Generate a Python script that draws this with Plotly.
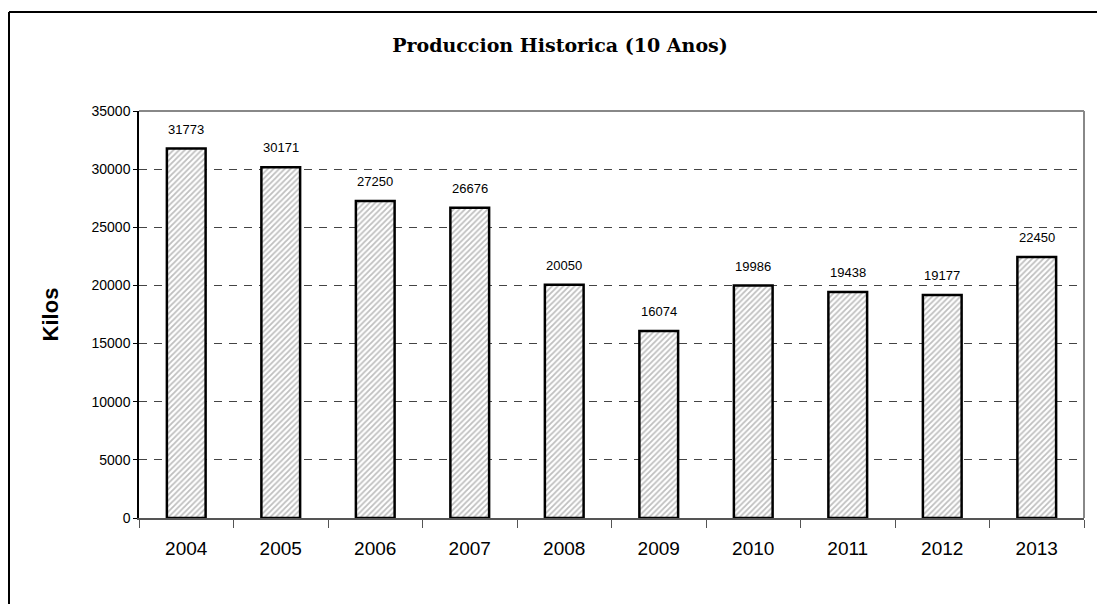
import plotly.graph_objects as go

years = ["2004", "2005", "2006", "2007", "2008", "2009", "2010", "2011", "2012", "2013"]
kilos = [31773, 30171, 27250, 26676, 20050, 16074, 19986, 19438, 19177, 22450]
y_ticks = [0, 5000, 10000, 15000, 20000, 25000, 30000, 35000]

OFF = 8  # page body margin offset

fig = go.Figure()
fig.add_trace(go.Bar(
    x=years, y=kilos,
    width=0.41,
    marker=dict(
        color="white",
        line=dict(color="black", width=2.5),
        pattern=dict(shape="/", fgcolor="#808080", bgcolor="white", size=4, solidity=0.45),
    ),
    hoverinfo="x+y",
))

for i, v in enumerate(kilos):
    fig.add_annotation(x=i, y=v, xref="x", yref="y", text=str(v), showarrow=False,
                       yanchor="bottom", yshift=10,
                       font=dict(family="Liberation Sans, Arial", size=13, color="black"))

fig.update_layout(
    width=1105, height=604,
    margin=dict(l=139 - OFF, r=21 + OFF, t=111 - OFF, b=86 + OFF),
    paper_bgcolor="white", plot_bgcolor="white",
    showlegend=False,
    title=dict(text="<b>Produccion Historica (10 Anos)</b>", x=(560 - OFF) / 1105, xanchor="center",
               y=1 - (45 - OFF) / 604, yanchor="middle",
               font=dict(family="DejaVu Serif", size=19, color="black")),
    xaxis=dict(
        type="category",
        range=[-0.5, 9.5],
        showline=True, linecolor="#555555", linewidth=2,
        ticks="outside", ticklen=8, tickcolor="#555555", tickwidth=1,
        tickson="boundaries",
        ticklabelstandoff=12,
        tickfont=dict(family="Liberation Sans, Arial", size=19, color="black"),
        tickangle=0,
        mirror=False, showgrid=False,
    ),
    yaxis=dict(
        range=[0, 35000],
        tickvals=y_ticks,
        tickformat="d",
        showline=True, linecolor="black", linewidth=1.5,
        ticks="outside", ticklen=4, tickcolor="black",
        tickfont=dict(family="Liberation Sans, Arial", size=14, color="black"),
        showgrid=True, gridcolor="#444444", griddash="8px,7px", gridwidth=1,
        zeroline=False,
        title=dict(text="<b>Kilos</b>", font=dict(family="Liberation Sans, Arial", size=22, color="black"), standoff=27),
    ),
)

W = 1105 - (139 - OFF) - (21 + OFF)
H = 604 - (111 - OFF) - (86 + OFF)
# plot-area top and right border
fig.add_shape(type="line", xref="paper", yref="paper", x0=0, x1=1, y0=1, y1=1,
              line=dict(color="#888888", width=2))
fig.add_shape(type="line", xref="paper", yref="paper", x0=1, x1=1, y0=0, y1=1,
              line=dict(color="#888888", width=2))
# outer chart border (top and left)
bx = -(139 - 9) / W
by = 1 + (111 - 12) / H
fig.add_shape(type="line", xref="paper", yref="paper", x0=bx, x1=1.2, y0=by, y1=by,
              line=dict(color="black", width=2))
fig.add_shape(type="line", xref="paper", yref="paper", x0=bx, x1=bx, y0=-0.4, y1=by,
              line=dict(color="black", width=2))

fig.write_html("out.html")
